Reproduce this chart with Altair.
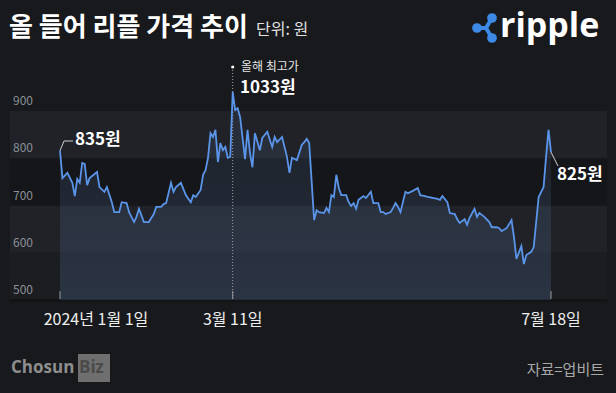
import altair as alt
import pandas as pd

KR = "Noto Sans CJK KR"

# ---- data (axis units as drawn) ----
dates = [
    "2024-01-01", "2024-01-02", "2024-01-04", "2024-01-06", "2024-01-07", "2024-01-08",
    "2024-01-09", "2024-01-10", "2024-01-11", "2024-01-12", "2024-01-13", "2024-01-16",
    "2024-01-17", "2024-01-19", "2024-01-20", "2024-01-22", "2024-01-23", "2024-01-25",
    "2024-01-26", "2024-01-28", "2024-01-29", "2024-01-31", "2024-02-01", "2024-02-02",
    "2024-02-04", "2024-02-06", "2024-02-08", "2024-02-09", "2024-02-11", "2024-02-12",
    "2024-02-13", "2024-02-15", "2024-02-16", "2024-02-17", "2024-02-19", "2024-02-21",
    "2024-02-23", "2024-02-24", "2024-02-25", "2024-02-27", "2024-02-28", "2024-02-29",
    "2024-03-01", "2024-03-02", "2024-03-03", "2024-03-04", "2024-03-05", "2024-03-06",
    "2024-03-07", "2024-03-08", "2024-03-09", "2024-03-10", "2024-03-11", "2024-03-12",
    "2024-03-13", "2024-03-14", "2024-03-16", "2024-03-17", "2024-03-18", "2024-03-19",
    "2024-03-20", "2024-03-22", "2024-03-23", "2024-03-25", "2024-03-27", "2024-03-28",
    "2024-03-29", "2024-03-31", "2024-04-02", "2024-04-03", "2024-04-04", "2024-04-06",
    "2024-04-08", "2024-04-09", "2024-04-10", "2024-04-11", "2024-04-13", "2024-04-14",
    "2024-04-15", "2024-04-17", "2024-04-18", "2024-04-19", "2024-04-20", "2024-04-21",
    "2024-04-22", "2024-04-23", "2024-04-24", "2024-04-26", "2024-04-27", "2024-04-28",
    "2024-04-29", "2024-04-30", "2024-05-01", "2024-05-03", "2024-05-04", "2024-05-06",
    "2024-05-07", "2024-05-09", "2024-05-10", "2024-05-11", "2024-05-12", "2024-05-14",
    "2024-05-15", "2024-05-16", "2024-05-17", "2024-05-18", "2024-05-20", "2024-05-21",
    "2024-05-23", "2024-05-25", "2024-05-26", "2024-05-28", "2024-05-29", "2024-05-31",
    "2024-06-02", "2024-06-03", "2024-06-04", "2024-06-06", "2024-06-07", "2024-06-09",
    "2024-06-10", "2024-06-11", "2024-06-13", "2024-06-14", "2024-06-15", "2024-06-17",
    "2024-06-18", "2024-06-19", "2024-06-21", "2024-06-23", "2024-06-24", "2024-06-26",
    "2024-06-27", "2024-06-28", "2024-06-30", "2024-07-02", "2024-07-03", "2024-07-04",
    "2024-07-06", "2024-07-07", "2024-07-08", "2024-07-10", "2024-07-11", "2024-07-13",
    "2024-07-15", "2024-07-16", "2024-07-17", "2024-07-18",
]
prices = [
    816, 758, 769, 748, 720, 756,
    748, 790, 788, 743, 758, 771,
    739, 729, 739, 707, 686, 686,
    707, 705, 686, 665, 676, 693,
    665, 665, 682, 697, 697, 703,
    705, 748, 729, 739, 748, 722,
    707, 722, 718, 733, 765, 775,
    801, 853, 845, 860, 792, 832,
    817, 824, 801, 803, 940, 902,
    906, 887, 798, 860, 811, 781,
    853, 817, 843, 856, 824, 845,
    834, 845, 803, 769, 801, 796,
    828, 834, 841, 832, 669, 690,
    686, 684, 695, 686, 722, 718,
    765, 737, 722, 722, 707, 699,
    705, 693, 712, 720, 716, 729,
    705, 705, 686, 686, 682, 686,
    695, 705, 697, 686, 729, 726,
    731, 737, 722, 720, 718, 716,
    714, 712, 720, 707, 684, 682,
    671, 663, 671, 659, 674, 693,
    676, 684, 676, 665, 654, 654,
    652, 646, 652, 669, 633, 587,
    614, 576, 595, 602, 612, 718,
    739, 803, 860, 813,
]

y_ticks = [500, 600, 700, 800, 900]
band_lo = [500, 600, 700, 800]
band_hi = [600, 700, 800, 900]

x_tick_dates = ["2024-01-01", "2024-03-11", "2024-07-18"]
x_tick_labels = ["2024년 1월 1일", "3월 11일", "7월 18일"]

title_text = "올 들어 리플 가격 추이"
unit_text = "단위: 원"
start_label = "835원"
peak_caption = "올해 최고가"
peak_label = "1033원"
end_label = "825원"
source_text = "자료=업비트"

# ---- tables ----
origin = pd.Timestamp("2024-01-01")
df = pd.DataFrame({"date": dates, "price": prices})
df["day"] = (pd.to_datetime(df["date"]) - origin).dt.days

ticks = pd.DataFrame({"date": x_tick_dates, "label": x_tick_labels})
ticks["day"] = (pd.to_datetime(ticks["date"]) - origin).dt.days

bands = pd.DataFrame({"lo": band_lo, "hi": band_hi})
ylab = pd.DataFrame({"v": y_ticks})
one = pd.DataFrame({"k": [0]})

sx = alt.Scale(domain=[-24.32, 225.35], nice=False, zero=False)
sy = alt.Scale(domain=[303.2, 1134.9], nice=False, zero=False)
X = alt.X("day:Q", scale=sx, axis=None)
Y = alt.Y("price:Q", scale=sy, axis=None)

# ---- layers ----
band_layer = alt.Chart(bands).mark_rect().encode(
    x=alt.value(10), x2=alt.value(607),
    y=alt.Y("lo:Q", scale=sy, axis=None), y2="hi:Q",
    color=alt.Color("lo:N", scale=alt.Scale(domain=band_lo,
                    range=["#1b1d21", "#202227", "#151619", "#202227"]), legend=None),
)
bottom_strip = alt.Chart(one).mark_rect(color="#131416").encode(
    x=alt.value(10), x2=alt.value(607), y=alt.value(299), y2=alt.value(302))

area = alt.Chart(df).mark_area(
    color=alt.Gradient(
        gradient="linear", x1=0, x2=0, y1=0, y2=1,
        stops=[alt.GradientStop(color="rgba(90,120,170,0.10)", offset=0),
               alt.GradientStop(color="rgba(90,120,170,0.25)", offset=1)],
    )
).encode(x=X, y=Y, y2=alt.datum(500))

peak = df[df["price"] == df["price"].max()]
peak_rule = alt.Chart(peak).mark_rule(color="#a0a4ab", strokeWidth=1, strokeDash=[1, 2]).encode(
    x=X, y=alt.value(67), y2=alt.value(300))
peak_dot = alt.Chart(peak).mark_circle(color="#ffffff", size=10, opacity=1).encode(
    x=X, y=alt.value(67))

line = alt.Chart(df).mark_line(color="#5a95ea", strokeWidth=1.8).encode(x=X, y=Y)

ytext = alt.Chart(ylab).mark_text(align="left", baseline="bottom", dy=-3, fontSize=12,
                                  color="#8b9099", font=KR).encode(
    x=alt.value(13), y=alt.Y("v:Q", scale=sy, axis=None), text="v:Q")

xtick = alt.Chart(ticks).mark_rule(color="#9a9a9a", strokeWidth=1).encode(
    x=X, y=alt.value(291), y2=alt.value(299))
xlab_first = alt.Chart(ticks.head(1)).mark_text(fontSize=16, color="#eeeeee", font=KR,
                                                baseline="middle", dx=36).encode(
    x=X, y=alt.value(320), text="label:N")
xlab_rest = alt.Chart(ticks.iloc[1:]).mark_text(fontSize=16, color="#eeeeee", font=KR,
                                                baseline="middle").encode(
    x=X, y=alt.value(320), text="label:N")

first = df.head(1)
last = df.tail(1)
lead1 = alt.Chart(first).mark_rule(color="#d0d0d0", strokeWidth=1).encode(
    x=X, y=Y, x2=alt.value(64), y2=alt.value(141))
lead1b = alt.Chart(one).mark_rule(color="#d0d0d0", strokeWidth=1).encode(
    x=alt.value(64), x2=alt.value(73), y=alt.value(141))
lab1 = alt.Chart(one).mark_text(text=start_label, fontSize=17, fontWeight="bold", color="#ffffff",
                                font=KR, align="left", baseline="middle").encode(
    x=alt.value(75), y=alt.value(140))

lead2 = alt.Chart(last).mark_rule(color="#d0d0d0", strokeWidth=1).encode(
    x=X, y=Y, x2=alt.value(558), y2=alt.value(166))
lab2 = alt.Chart(one).mark_text(text=end_label, fontSize=17, fontWeight="bold", color="#ffffff",
                                font=KR, align="left", baseline="middle").encode(
    x=alt.value(557), y=alt.value(175))

cap = alt.Chart(one).mark_text(text=peak_caption, fontSize=12, color="#e6e6e6",
                               font=KR, align="left", baseline="middle").encode(
    x=alt.value(241), y=alt.value(67))
lab3 = alt.Chart(one).mark_text(text=peak_label, fontSize=17, fontWeight="bold", color="#ffffff",
                                font=KR, align="left", baseline="middle").encode(
    x=alt.value(240), y=alt.value(88))

title = alt.Chart(one).mark_text(text=title_text, fontSize=26, fontWeight="bold", color="#ffffff",
                                 font=KR, align="left", baseline="alphabetic").encode(
    x=alt.value(9), y=alt.value(36))
unit = alt.Chart(one).mark_text(text=unit_text, fontSize=16, color="#e0e0e0",
                                font=KR, align="left", baseline="alphabetic").encode(
    x=alt.value(256), y=alt.value(35))

# ripple logo
logo_col = "#3d8ae6"
arms = alt.Chart(one).mark_rule(color=logo_col, strokeWidth=4).encode(
    x=alt.value(477), y=alt.value(28), x2=alt.value(486), y2=alt.value(28))
arm2 = alt.Chart(one).mark_rule(color=logo_col, strokeWidth=4).encode(
    x=alt.value(486), y=alt.value(28), x2=alt.value(492), y2=alt.value(18))
arm3 = alt.Chart(one).mark_rule(color=logo_col, strokeWidth=4).encode(
    x=alt.value(486), y=alt.value(28), x2=alt.value(492), y2=alt.value(38))
dot1 = alt.Chart(one).mark_circle(color=logo_col, size=95, opacity=1).encode(
    x=alt.value(477), y=alt.value(28))
dot2 = alt.Chart(one).mark_circle(color=logo_col, size=95, opacity=1).encode(
    x=alt.value(492), y=alt.value(18))
dot3 = alt.Chart(one).mark_circle(color=logo_col, size=95, opacity=1).encode(
    x=alt.value(492), y=alt.value(38))
ripple = alt.Chart(one).mark_text(text="ripple", fontSize=34, fontWeight="bold", color="#ffffff",
                                  font="Open Sans", align="left", baseline="alphabetic").encode(
    x=alt.value(500), y=alt.value(37))

# footer
chosun = alt.Chart(one).mark_text(text="Chosun", fontSize=17, fontWeight="bold", color="#8e8e8e",
                                  font="Open Sans", align="left", baseline="middle").encode(
    x=alt.value(11), y=alt.value(368))
biz_box = alt.Chart(one).mark_rect(color="#6f6f6f").encode(
    x=alt.value(78), x2=alt.value(110), y=alt.value(354), y2=alt.value(382))
biz = alt.Chart(one).mark_text(text="Biz", fontSize=17, fontWeight="bold", color="#4a4a4a",
                               font="Open Sans", align="left", baseline="middle").encode(
    x=alt.value(79), y=alt.value(368))
source = alt.Chart(one).mark_text(text=source_text, fontSize=15, color="#a8a8a8",
                                  font=KR, align="right", baseline="middle").encode(
    x=alt.value(604), y=alt.value(370))

chart = alt.layer(
    band_layer, bottom_strip, area, peak_rule, line, peak_dot, ytext, xtick, xlab_first, xlab_rest,
    lead1, lead1b, lab1, lead2, lab2, cap, lab3, title, unit,
    arms, arm2, arm3, dot1, dot2, dot3, ripple, chosun, biz_box, biz, source,
).properties(
    width=616, height=393, padding=0,
    autosize=alt.AutoSizeParams(type="none"),
    background="#17191c",
).configure_view(stroke=None)

chart.save("out.html", embed_options={"renderer": "svg", "actions": False})
